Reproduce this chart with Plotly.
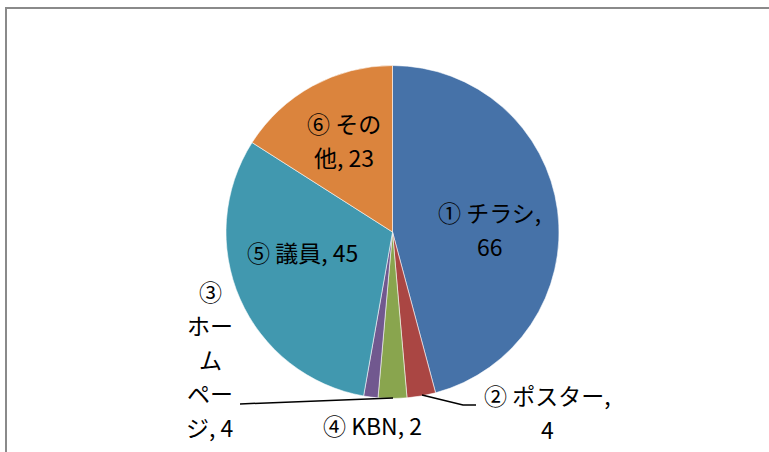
import plotly.graph_objects as go

# ---- data ----
labels = ["① チラシ", "② ポスター", "③ ホームページ", "④ KBN", "⑤ 議員", "⑥ その他"]
values = [66, 4, 4, 2, 45, 23]

# ---- style / layout ----
W, H = 769, 452
colors = ["#4672A8", "#AA4643", "#89A54E", "#71588F", "#4198AF", "#DB843D"]
FONT = "Noto Sans CJK JP, Noto Sans, sans-serif"
FS = 23
LINE = 34
# character indices where each data label wraps
breaks = [[6], [7], [1, 4, 5, 7], [], [], [4]]
# label block centres in pixels
label_pos = [(490, 229), (547, 412), (210, 359), (372, 425), (302, 252), (344, 140)]


def px(x):
    return x / W


def py(y):
    return 1 - y / H


fig = go.Figure()
fig.add_trace(go.Pie(
    labels=labels, values=values, sort=False, direction="clockwise",
    rotation=0, textinfo="none", hoverinfo="label+value",
    marker=dict(colors=colors, line=dict(color="rgba(255,255,255,0.7)", width=0.8)),
    domain=dict(x=[px(226), px(559)], y=[py(399), py(65)]),
    showlegend=False,
))

annotations = []
for lab, val, brk, (cx, cy) in zip(labels, values, breaks, label_pos):
    full = f"{lab}, {val}"
    idx = [0] + brk + [len(full)]
    lines = [full[a:b].strip() for a, b in zip(idx[:-1], idx[1:])]
    n = len(lines)
    for i, ln in enumerate(lines):
        y = cy + (i - (n - 1) / 2) * LINE
        annotations.append(dict(
            x=px(cx), y=py(y), xref="paper", yref="paper", text=ln,
            showarrow=False, xanchor="center", yanchor="middle",
            font=dict(family=FONT, size=FS, color="#000000"),
        ))

shapes = [
    # chart frame (clipped at right/bottom)
    dict(type="rect", xref="paper", yref="paper",
         x0=px(6), y0=py(470), x1=px(790), y1=py(8),
         line=dict(color="#8a8a8a", width=2), layer="below"),
    # leader lines
    dict(type="line", xref="paper", yref="paper",
         x0=px(240), y0=py(404), x1=px(393), y1=py(398),
         line=dict(color="#000000", width=1.5)),
    dict(type="path", xref="paper", yref="paper",
         path=f"M {px(422)} {py(395)} L {px(463)} {py(405)} L {px(476)} {py(405)}",
         line=dict(color="#000000", width=1.5)),
]

fig.update_layout(
    width=W, height=H,
    margin=dict(l=0, r=0, t=0, b=0),
    paper_bgcolor="#ffffff", plot_bgcolor="#ffffff",
    annotations=annotations, shapes=shapes,
)

fig.write_html(
    "out.html",
    config={"displayModeBar": False},
    post_script="document.body.style.margin='0';document.body.style.overflow='hidden';",
)
